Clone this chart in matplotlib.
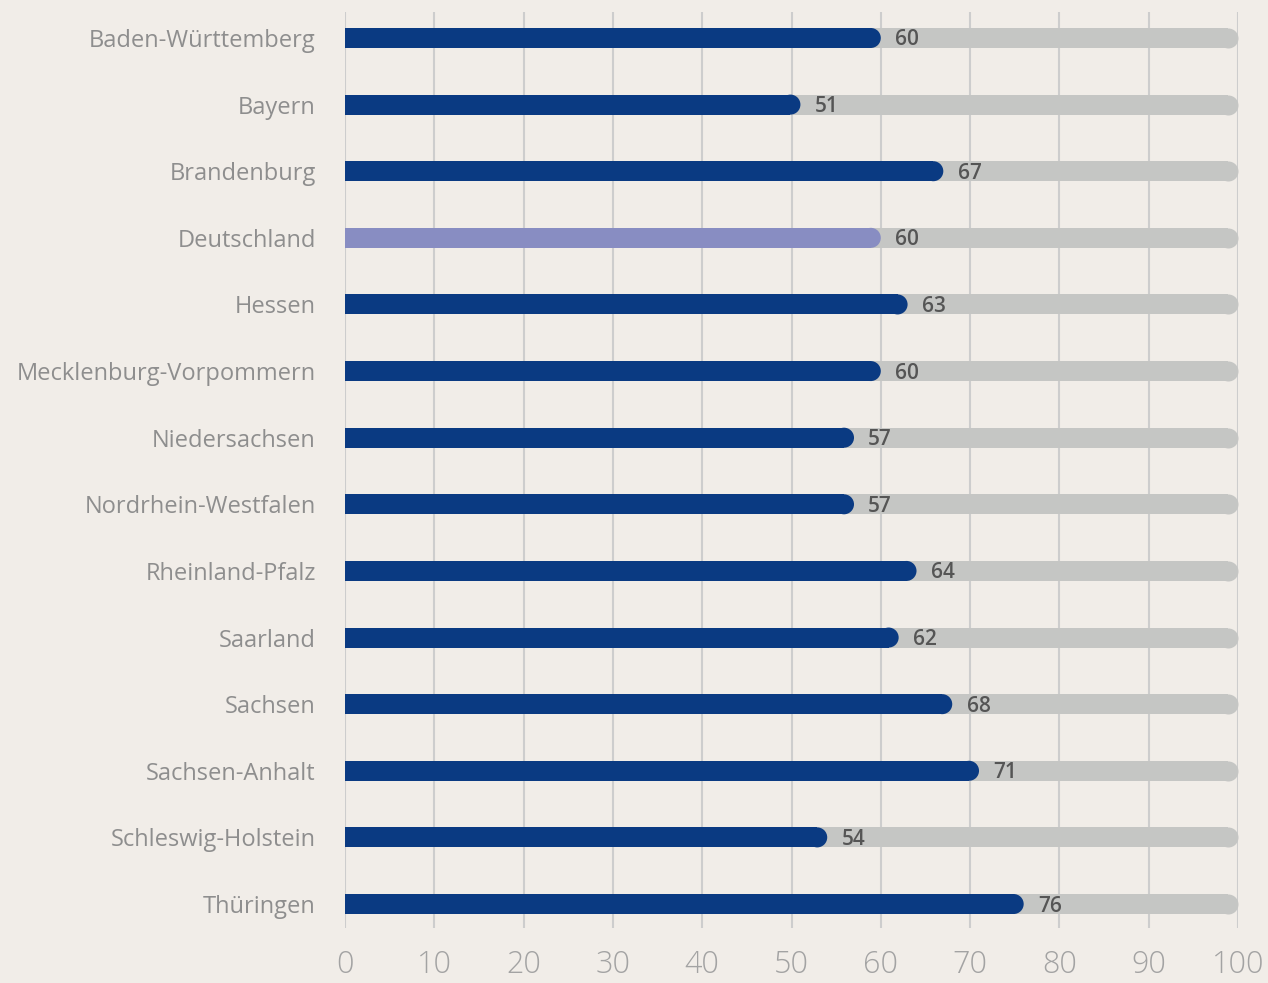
import numpy as np
import matplotlib.pyplot as plt

# Daten
laender = ['Baden-Württemberg', 'Bayern', 'Brandenburg', 'Deutschland', 'Hessen',
           'Mecklenburg-Vorpommern', 'Niedersachsen', 'Nordrhein-Westfalen',
           'Rheinland-Pfalz', 'Saarland', 'Sachsen', 'Sachsen-Anhalt',
           'Schleswig-Holstein', 'Thüringen']
werte = [60, 51, 67, 60, 63, 60, 57, 57, 64, 62, 68, 71, 54, 76]
maximum = 100
ticks = [0, 10, 20, 30, 40, 50, 60, 70, 80, 90, 100]

bg = '#f1ede8'
blau = '#0a3a82'
hell = '#888dc2'
grau = '#c5c6c4'

plt.rcParams['font.family'] = ['Open Sans', 'DejaVu Sans']

fig = plt.figure(figsize=(12.68, 9.83), dpi=100, facecolor=bg)
ax = fig.add_axes([345 / 1268, 1 - 928 / 983, 893 / 1268, 916 / 983])
ax.set_facecolor(bg)

y = np.arange(len(laender))
h = 0.3
# Radius der runden Enden in Dateneinheiten (10 px)
r = 10 / 8.93
ms = 20 * 72 / 100

farben = [hell if l == 'Deutschland' else blau for l in laender]

# Grauer Hintergrundbalken
ax.barh(y, maximum - r, height=h, color=grau, zorder=2)
ax.scatter([maximum - r] * len(y), y, s=ms ** 2, color=grau, marker='o',
           linewidths=0, zorder=2)

# Werte
ax.barh(y, np.array(werte) - r, height=h, color=farben, zorder=3)
ax.scatter(np.array(werte) - r, y, s=ms ** 2, c=farben, marker='o',
           linewidths=0, zorder=3)

for yi, w in zip(y, werte):
    ax.text(w + 1.6, yi + 0.03, str(w), ha='left', va='center', fontsize=15,
            fontweight='semibold', color='#555555', zorder=4)

ax.set_xlim(0, 100)
ax.set_ylim(13.36, -0.39)
ax.set_yticks(y)
ax.set_yticklabels(laender, fontsize=17, color='#8e8e8e')
ax.set_xticks(ticks)
ax.set_xticklabels([str(t) for t in ticks], fontsize=22, color='#a3a3a3',
                   fontweight='light')
ax.tick_params(axis='y', length=0, pad=21)
ax.tick_params(axis='x', length=0, pad=15)
ax.grid(axis='x', color='#cdcdcd', linewidth=1.5, zorder=0)
ax.set_axisbelow(True)
for s in ax.spines.values():
    s.set_visible(False)

fig.savefig('out.png', dpi=100, facecolor=bg)
